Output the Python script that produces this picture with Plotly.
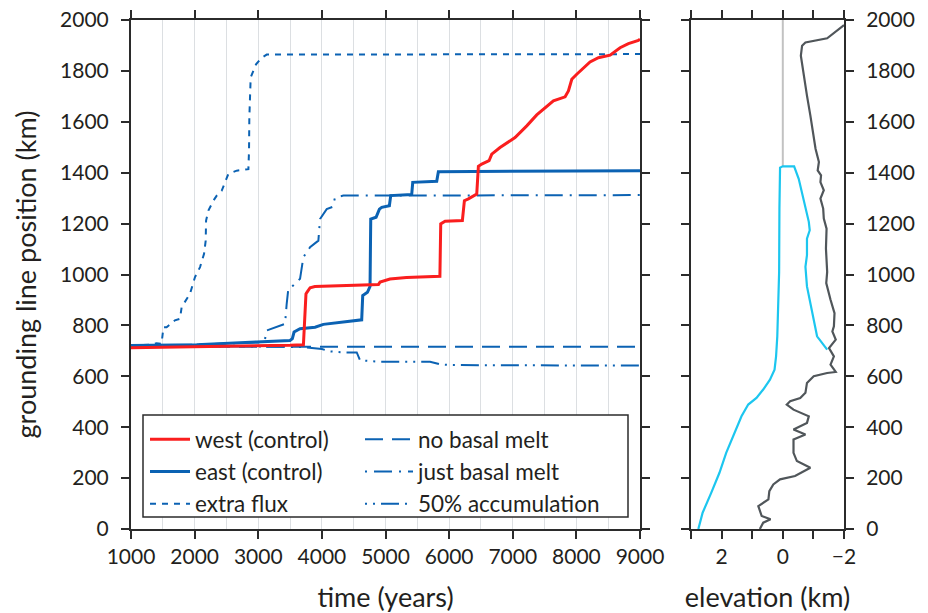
import plotly.graph_objects as go

# ---------------- data (left panel: grounding line position vs time) ----------------
west_t = [1000, 2000, 3000, 3500, 3710, 3750, 3765, 3815, 3890, 4130, 4650, 4890, 4915, 5070, 5330, 5855,
          5868, 5936, 6208, 6240, 6303, 6434, 6460, 6513, 6628, 6670, 6800, 7036, 7220, 7377, 7639, 7823,
          7875, 7928, 8006, 8215, 8346, 8530, 8687, 8818, 8975, 9000]
west_y = [712, 715, 719, 722, 724, 924, 930, 948, 953, 955, 958, 961, 970, 982, 988, 993,
          1199, 1209, 1212, 1290, 1297, 1316, 1425, 1434, 1447, 1473, 1499, 1538, 1584, 1627, 1682, 1698,
          1721, 1767, 1787, 1835, 1852, 1862, 1891, 1907, 1920, 1924]

east_t = [1000, 2032, 2976, 3500, 3536, 3563, 3657, 3893, 4023, 4338, 4626, 4642, 4716, 4757, 4768, 4852,
          4904, 4941, 5061, 5082, 5412, 5428, 5805, 5831, 9000]
east_y = [721, 724, 735, 741, 748, 774, 787, 793, 804, 813, 822, 917, 930, 953, 1218, 1225,
          1257, 1264, 1270, 1310, 1314, 1362, 1366, 1404, 1408]

extra_t = [1000, 1300, 1400, 1480, 1510, 1560, 1690, 1770, 1796, 1927, 2006, 2085, 2148, 2174, 2180, 2216,
           2295, 2347, 2425, 2530, 2661, 2845, 2855, 2860, 2881, 2965, 3054, 3133, 9000]
extra_y = [722, 724, 730, 728, 793, 793, 820, 826, 872, 924, 990, 1029, 1081, 1133, 1212, 1251,
           1290, 1310, 1329, 1395, 1408, 1414, 1486, 1617, 1774, 1826, 1852, 1864, 1866]

nomelt_t = [1000, 9000]
nomelt_y = [716, 716]

justmelt_t = [1000, 2000, 3000, 3100, 3133, 3290, 3421, 3447, 3473, 3552, 3657, 3709, 3814, 3945, 3971,
              4076, 4170, 4207, 4338, 9000]
justmelt_y = [720, 724, 733, 738, 780, 793, 806, 885, 944, 957, 983, 1068, 1107, 1133, 1218,
              1257, 1266, 1303, 1310, 1312]

acc_t = [1000, 2000, 3000, 3700, 4000, 4128, 4338, 4548, 4600, 4915, 5176, 5700, 5857, 6040, 9000]
acc_y = [718, 718, 717, 715, 707, 698, 694, 694, 663, 657, 657, 657, 647, 644, 642]

# ---------------- data (right panel: elevation profile) ----------------
bed_elev = [-2.0, -1.45, -0.74, -0.63, -0.59, -0.68, -0.79, -0.90, -1.01, -1.07, -1.18, -1.14, -1.25, -1.23,
            -1.34, -1.23, -1.32, -1.34, -1.43, -1.41, -1.45, -1.42, -1.56, -1.69, -1.67, -1.62, -1.73, -1.51,
            -1.67, -1.56, -1.73, -1.45, -1.01, -0.79, -0.74, -0.57, -0.24, -0.13, -0.35, -0.85, -0.79, -0.35,
            -0.74, -0.35, -0.35, -0.46, -0.90, -0.40, 0.09, 0.31, 0.44, 0.47, 0.80, 0.69, 0.40, 0.64, 0.75]
bed_km = [1980, 1928, 1912, 1899, 1860, 1782, 1703, 1625, 1546, 1494, 1442, 1409, 1390, 1363,
          1331, 1298, 1259, 1220, 1180, 1102, 1010, 966, 901, 848, 796, 776, 744, 711,
          678, 646, 617, 613, 600, 574, 535, 515, 502, 489, 469, 443, 417, 391,
          371, 352, 299, 267, 241, 208, 195, 175, 149, 116, 90, 51, 38, 25, 0]

ice_elev = [2.76, 2.62, 2.34, 2.07, 1.85, 1.57, 1.35, 1.13, 0.86, 0.64, 0.42, 0.27, 0.22, 0.18, 0.14, 0.12,
            0.11, 0.09, 0.0, -0.37, -0.52, -0.70, -0.85, -0.88, -0.79, -0.79, -0.74, -0.79, -0.90, -1.01,
            -1.07, -1.12, -1.45]
ice_km = [0, 64, 142, 221, 299, 378, 443, 489, 515, 548, 587, 626, 678, 757, 888, 1010,
          1259, 1420, 1425, 1425, 1376, 1285, 1207, 1174, 1141, 1076, 1030, 953, 888, 823,
          776, 757, 705]

sea_elev = [0, 0]
sea_km = [1425, 2000]

x_ticks = [1000, 2000, 3000, 4000, 5000, 6000, 7000, 8000, 9000]
y_ticks = list(range(0, 2001, 200))
elev_tickvals = [3, 2, 1, 0, -1, -2]
elev_ticktext = ["", "2", "", "0", "", "\u22122"]

# ---------------- styling ----------------
RED = "#fa1e1e"
BLUE = "#0b62b3"
CYAN = "#1cc6ef"
DGREY = "#50565a"
LGREY = "#c2c2c2"
AX = "#2b2b2b"
TXT = "#231f20"
GRID = "#dcdfe2"
FONT = "Lato"

fig = go.Figure()

def add_line(x, y, name, color, width, dash, legend, rank):
    fig.add_trace(go.Scatter(x=x, y=y, mode="lines", name=name, xaxis="x", yaxis="y",
                             line=dict(color=color, width=width, dash=dash),
                             legend=legend, legendgroup=name, legendrank=rank))

add_line(nomelt_t, nomelt_y, "no basal melt", BLUE, 2, "18px,9px", "legend2", 1)
add_line(acc_t, acc_y, "50% accumulation", BLUE, 2, "2px,6px,2px,6px,18px,6px", "legend2", 3)
add_line(justmelt_t, justmelt_y, "just basal melt", BLUE, 2, "2px,7px,18px,7px", "legend2", 2)
add_line(extra_t, extra_y, "extra flux", BLUE, 2, "6px,6px", "legend", 3)
add_line(east_t, east_y, "east (control)", BLUE, 3, "solid", "legend", 2)
add_line(west_t, west_y, "west (control)", RED, 3, "solid", "legend", 1)

fig.add_trace(go.Scatter(x=sea_elev, y=sea_km, mode="lines", xaxis="x2", yaxis="y2",
                         line=dict(color=LGREY, width=2), showlegend=False))
fig.add_trace(go.Scatter(x=ice_elev, y=ice_km, mode="lines", xaxis="x2", yaxis="y2",
                         line=dict(color=CYAN, width=2.2), showlegend=False))
fig.add_trace(go.Scatter(x=bed_elev, y=bed_km, mode="lines", xaxis="x2", yaxis="y2",
                         line=dict(color=DGREY, width=2.2), showlegend=False))

L, R, T, B = 131, 84, 20, 84
W, H = 928, 613
pw, ph = W - L - R, H - T - B

def px(xp):
    return (xp - L) / pw

def py(yp):
    return (H - B - yp) / ph

common = dict(showline=True, linecolor=AX, linewidth=2, mirror="ticks", ticks="outside",
              ticklen=8, tickwidth=1.5, tickcolor=AX, zeroline=False, automargin=False,
              tickfont=dict(family=FONT, size=21, color=TXT))
title_font = dict(family=FONT, size=27, color=TXT)
leg_font = dict(family=FONT, size=22.5, color=TXT)

fig.update_layout(
    width=W, height=H,
    margin=dict(l=L, r=R, t=T, b=B, autoexpand=False),
    paper_bgcolor="white", plot_bgcolor="white",
    font=dict(family=FONT, color=TXT),
    xaxis=dict(domain=[0, px(640)], range=[1000, 9000], tickvals=x_ticks, anchor="y",
               showgrid=True, gridcolor=GRID, gridwidth=1,
               minor=dict(dtick=500, showgrid=True, gridcolor=GRID, gridwidth=1, ticks=""),
               title=dict(text="time (years)", font=title_font, standoff=21),
               **common),
    yaxis=dict(domain=[0, 1], range=[0, 2000], tickvals=y_ticks, anchor="x", showgrid=False,
               ticklabelstandoff=8,
               title=dict(text="grounding line position (km)", font=title_font, standoff=16),
               **common),
    yaxis3=dict(overlaying="y", anchor="x", range=[0, 2000], dtick=400, showgrid=True, gridcolor=GRID,
                gridwidth=1, showticklabels=False, ticks="", showline=False, zeroline=False,
                automargin=False),
    xaxis2=dict(domain=[px(691), 1], range=[3, -2], tickvals=elev_tickvals, ticktext=elev_ticktext,
                anchor="y2", showgrid=False,
                title=dict(text="elevation (km)", font=title_font, standoff=21),
                **common),
    yaxis2=dict(domain=[0, 1], range=[0, 2000], tickvals=y_ticks, anchor="x2", side="right",
                showgrid=False, ticklabelstandoff=8, **common),
    legend=dict(x=px(145), y=py(418), xanchor="left", yanchor="top", bgcolor="rgba(0,0,0,0)",
                borderwidth=0, font=leg_font, traceorder="grouped",
                tracegroupgap=0, itemwidth=40),
    legend2=dict(x=px(360), y=py(418), xanchor="left", yanchor="top", bgcolor="rgba(0,0,0,0)",
                 borderwidth=0, font=leg_font, traceorder="grouped",
                 tracegroupgap=0, itemwidth=48),
    shapes=[dict(type="rect", xref="paper", yref="paper", x0=px(143), x1=px(628), y0=py(517), y1=py(415),
                 line=dict(color=AX, width=1.5), fillcolor="white", layer="above")],
    showlegend=True,
)

fig.write_html("out.html")
